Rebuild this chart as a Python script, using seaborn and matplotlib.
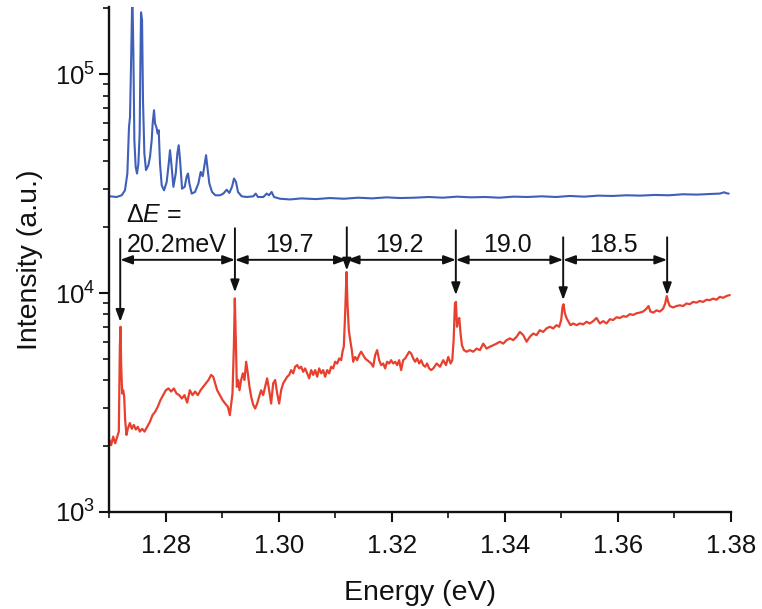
import numpy as np
import pandas as pd
import matplotlib
matplotlib.use("Agg")
import matplotlib.pyplot as plt
import seaborn as sns

# ---------------- data ----------------
red_energy = [
    1.2700, 1.27029, 1.27065, 1.2710, 1.27136, 1.27165, 1.27183, 1.27195, 1.27206, 1.27224,
    1.27242, 1.2726, 1.27277, 1.27301, 1.27324, 1.2736, 1.27395, 1.2743, 1.27466, 1.27501,
    1.27537, 1.27578, 1.2762, 1.27667, 1.27714, 1.27761, 1.27808, 1.27855, 1.27903, 1.2795,
    1.27997, 1.28044, 1.28091, 1.28139, 1.28186, 1.28233, 1.2828, 1.28327, 1.28375, 1.28422,
    1.28469, 1.28516, 1.28563, 1.28611, 1.28658, 1.28705, 1.28752, 1.28799, 1.28835, 1.2887,
    1.28906, 1.28953, 1.2900, 1.29047, 1.29094, 1.2913, 1.29153, 1.29177, 1.29201, 1.29218,
    1.29236, 1.29254, 1.29277, 1.29301, 1.2933, 1.2936, 1.29389, 1.29419, 1.29448, 1.29478,
    1.29507, 1.29543, 1.29578, 1.29614, 1.29649, 1.29684, 1.2972, 1.29755, 1.2979, 1.29826,
    1.29861, 1.29897, 1.29932, 1.29968, 1.30003, 1.30038, 1.30074, 1.30109, 1.30145, 1.3018,
    1.30215, 1.30251, 1.30286, 1.30322, 1.30357, 1.30392, 1.30428, 1.30463, 1.30499, 1.30534,
    1.3057, 1.30605, 1.3064, 1.30676, 1.30711, 1.30747, 1.30782, 1.30817, 1.30853, 1.30888,
    1.30924, 1.30959, 1.30994, 1.3103, 1.31065, 1.31101, 1.31124, 1.31147, 1.31171, 1.31195,
    1.31212, 1.31236, 1.31265, 1.31289, 1.31313, 1.31348, 1.31383, 1.31419, 1.31454, 1.3149,
    1.31525, 1.3156, 1.31596, 1.31631, 1.31667, 1.31702, 1.31737, 1.31773, 1.31808, 1.31844,
    1.31879, 1.31914, 1.3195, 1.31985, 1.32021, 1.32056, 1.32091, 1.32127, 1.32162, 1.32198,
    1.32233, 1.32268, 1.32304, 1.32339, 1.32375, 1.3241, 1.32445, 1.32481, 1.32516, 1.32552,
    1.32587, 1.32622, 1.32658, 1.32693, 1.32731, 1.3279, 1.32849, 1.32908, 1.32955, 1.32996,
    1.33038, 1.33067, 1.33091, 1.33114, 1.33132, 1.3315, 1.33173, 1.33191, 1.33214, 1.33238,
    1.33273, 1.3332, 1.33379, 1.33438, 1.33497, 1.33556, 1.33615, 1.33674, 1.33733, 1.33792,
    1.33851, 1.3391, 1.33969, 1.34028, 1.34087, 1.34146, 1.34205, 1.34264, 1.34323, 1.34382,
    1.34441, 1.3450, 1.34558, 1.34617, 1.34676, 1.34735, 1.34794, 1.34853, 1.34912, 1.34959,
    1.34995, 1.35018, 1.35036, 1.3506, 1.35089, 1.35124, 1.3516, 1.35207, 1.35266, 1.35325,
    1.35384, 1.35443, 1.35502, 1.35561, 1.3562, 1.35679, 1.35738, 1.35797, 1.35856, 1.35915,
    1.35974, 1.36033, 1.36092, 1.36151, 1.3621, 1.36269, 1.36328, 1.36387, 1.36446, 1.36505,
    1.3654, 1.36575, 1.36623, 1.36682, 1.36741, 1.3680, 1.36835, 1.36864, 1.36888, 1.36917,
    1.36976, 1.37035, 1.37094, 1.37153, 1.37212, 1.37271, 1.3733, 1.37389, 1.37448, 1.37507,
    1.37566, 1.37625, 1.37684, 1.37743, 1.37802, 1.37861, 1.3792, 1.37979,
]
red_intensity = [
    2130, 2020, 2210, 2060, 2210, 2330, 5690, 7020, 4770, 3480,
    3600, 3370, 2630, 2250, 2400, 2550, 2400, 2500, 2380, 2450,
    2330, 2400, 2330, 2450, 2580, 2770, 2870, 3030, 3250, 3420,
    3600, 3670, 3550, 3670, 3480, 3420, 3300, 3420, 3160, 3600,
    3420, 3550, 3420, 3600, 3730, 3870, 4010, 4230, 4150, 3870,
    3600, 3420, 3250, 3130, 3030, 2770, 3090, 3480, 5690, 9460,
    6100, 3730, 4010, 3600, 4010, 4300, 4010, 4860, 4300, 3730,
    3370, 3090, 2970, 3130, 3370, 3600, 3420, 3730, 4080, 3600,
    3130, 3870, 4010, 3480, 3130, 3600, 3870, 4010, 4150, 4230,
    4450, 4300, 4610, 4690, 4530, 4610, 4370, 4530, 4300, 4080,
    4450, 4230, 4450, 4150, 4530, 4300, 4450, 4150, 4450, 4300,
    4610, 4530, 4860, 4770, 5030, 4940, 5400, 5690, 8090, 12500,
    9000, 6770, 6000, 5490, 4860, 5110, 4940, 5210, 5400, 5210,
    5030, 4940, 4860, 4770, 4610, 5210, 5490, 4940, 4690, 4770,
    4530, 4860, 4770, 4940, 4770, 4860, 4690, 4940, 4450, 4940,
    5030, 5210, 5400, 5300, 5030, 4860, 5030, 4770, 4940, 4690,
    4610, 4770, 4530, 4450, 4530, 4770, 4610, 4940, 4690, 5110,
    4770, 4940, 6100, 8970, 9120, 7020, 7540, 7700, 6540, 5780,
    5490, 5400, 5490, 5400, 5580, 5490, 5880, 5580, 5690, 5780,
    5880, 6000, 5880, 6100, 6210, 6100, 6320, 6650, 6430, 6000,
    6320, 6540, 6430, 6770, 6650, 6900, 7020, 6900, 7140, 7020,
    7540, 8650, 8900, 8090, 7700, 7400, 7140, 7270, 7140, 7270,
    7200, 7400, 7270, 7450, 7700, 7270, 7450, 7270, 7600, 7540,
    7760, 7700, 7850, 7800, 8020, 7950, 8090, 8150, 8240, 8500,
    8730, 8240, 8150, 8340, 8240, 8500, 8970, 9700, 9120, 8730,
    8600, 8730, 8800, 8730, 8970, 8900, 9120, 9050, 9210, 9120,
    9330, 9290, 9440, 9330, 9620, 9520, 9700, 9800,
]

blue_energy = [
    1.2701, 1.27127, 1.27215, 1.27274, 1.27316, 1.27345, 1.27363, 1.27386, 1.27404, 1.27422,
    1.2744, 1.27463, 1.27487, 1.27511, 1.27534, 1.27546, 1.27558, 1.27576, 1.27593, 1.27617,
    1.27646, 1.27688, 1.27717, 1.27747, 1.27764, 1.27788, 1.27806, 1.2783, 1.27853, 1.27871,
    1.27894, 1.27924, 1.27965, 1.28012, 1.28048, 1.28071, 1.28095, 1.28131, 1.28172, 1.28201,
    1.28225, 1.28249, 1.28284, 1.28331, 1.28367, 1.2839, 1.28414, 1.28455, 1.28514, 1.28573,
    1.28614, 1.2865, 1.28685, 1.28709, 1.28732, 1.28767, 1.28815, 1.28874, 1.28956, 1.29015,
    1.29074, 1.29121, 1.29168, 1.29204, 1.29239, 1.29274, 1.29339, 1.29428, 1.29546, 1.29587,
    1.29628, 1.29723, 1.29782, 1.29823, 1.2987, 1.29912, 1.30018, 1.30195, 1.3040, 1.3065,
    1.3090, 1.3115, 1.3140, 1.3165, 1.3190, 1.3215, 1.3240, 1.3265, 1.3290, 1.3315,
    1.3340, 1.3365, 1.3390, 1.3415, 1.3440, 1.3465, 1.3490, 1.3515, 1.3540, 1.3565,
    1.3590, 1.3615, 1.3640, 1.3665, 1.3690, 1.3715, 1.3740, 1.3765, 1.3780, 1.3788,
    1.3792, 1.3796,
]
blue_intensity = [
    27700, 27500, 28000, 29500, 35200, 57400, 63800, 129000, 240000, 129000,
    50000, 37800, 35200, 39000, 53600, 108000, 192000, 177000, 76000, 43500,
    36500, 38400, 42000, 50000, 59600, 68500, 59600, 57400, 53600, 55500,
    39000, 31100, 29500, 32200, 39000, 45000, 39000, 30600, 35200, 43500,
    47400, 40500, 30000, 30600, 34200, 35200, 31700, 28500, 29000, 31700,
    35800, 34200, 39000, 42700, 37800, 31700, 29000, 28000, 28000, 28500,
    29700, 28700, 30600, 33400, 32200, 29000, 27700, 27500, 27700, 28500,
    27500, 27500, 28500, 28000, 29000, 27500, 27000, 26800, 27100, 26900,
    27200, 27000, 27300, 27100, 27400, 27200, 27300, 27500, 27300, 27600,
    27400, 27500, 27300, 27600, 27500, 27700, 27500, 27800, 27600, 27900,
    27800, 28000, 27900, 28100, 28000, 28300, 28200, 28400, 28500, 28900,
    28600, 28500,
]

peak_energy = [1.2719, 1.2922, 1.3120, 1.3313, 1.3503, 1.3687]
arrow_top = [17700, 19800, 20000, 19400, 18000, 18000]
arrow_tip = [7400, 10100, 12700, 9800, 9300, 9800]
spacing_labels = ["20.2meV", "19.7", "19.2", "19.0", "18.5"]
bracket_level = 14200

# ---------------- style ----------------
sns.set_theme(style="ticks")
plt.rcParams["font.family"] = ["Liberation Sans", "DejaVu Sans"]
plt.rcParams["mathtext.fontset"] = "custom"
plt.rcParams["mathtext.rm"] = "Liberation Sans"
plt.rcParams["mathtext.it"] = "Liberation Sans:italic"

fig = plt.figure(figsize=(7.62, 6.09), dpi=100)
ax = fig.add_axes([0.1437, 0.1593, 0.8156, 0.8292])

blue_df = pd.DataFrame({"Energy": blue_energy, "Intensity": blue_intensity})
red_df = pd.DataFrame({"Energy": red_energy, "Intensity": red_intensity})

sns.lineplot(data=blue_df, x="Energy", y="Intensity", ax=ax, color="#3f5fb8",
             linewidth=1.5, estimator=None, sort=False)
sns.lineplot(data=red_df, x="Energy", y="Intensity", ax=ax, color="#e8402e",
             linewidth=1.6, estimator=None, sort=False)

ax.set_yscale("log")
ax.set_xlim(1.27, 1.38)
ax.set_ylim(1e3, 2.03e5)
ax.set_xticks([1.28, 1.30, 1.32, 1.34, 1.36, 1.38])
ax.set_xticklabels(["1.28", "1.30", "1.32", "1.34", "1.36", "1.38"])
ax.set_xticks([1.27, 1.29, 1.31, 1.33, 1.35, 1.37], minor=True)
ax.yaxis.set_major_locator(matplotlib.ticker.LogLocator(base=10, numticks=10))
ax.yaxis.set_minor_locator(matplotlib.ticker.LogLocator(base=10, subs=np.arange(2, 10), numticks=20))
ax.yaxis.set_minor_formatter(matplotlib.ticker.NullFormatter())

for s in ["top", "right"]:
    ax.spines[s].set_visible(False)
for s in ["left", "bottom"]:
    ax.spines[s].set_linewidth(1.7)
    ax.spines[s].set_color("#111111")

ax.tick_params(axis="x", which="major", pad=9)
ax.tick_params(axis="both", which="major", direction="out", length=7, width=1.5,
               labelsize=18.5, colors="#111111")
ax.tick_params(axis="both", which="minor", direction="out", length=4, width=1.2,
               colors="#111111")
ax.set_xlabel("Energy (eV)", fontsize=20.5, color="#111111", labelpad=16)
ax.set_ylabel("Intensity (a.u.)", fontsize=20.5, color="#111111", labelpad=8)
ax.grid(False)

# vertical arrows to peaks
for e, top, tip in zip(peak_energy, arrow_top, arrow_tip):
    ax.annotate("", xy=(e, tip), xytext=(e, top),
                arrowprops=dict(arrowstyle="-|>,head_length=0.6,head_width=0.22",
                                color="#111111", lw=1.4, shrinkA=0, shrinkB=0))

# horizontal double arrows and labels
for i, lab in enumerate(spacing_labels):
    e0, e1 = peak_energy[i], peak_energy[i + 1]
    ax.annotate("", xy=(e1, bracket_level), xytext=(e0, bracket_level),
                arrowprops=dict(arrowstyle="<|-|>,head_length=0.6,head_width=0.22",
                                color="#111111", lw=1.4, shrinkA=0, shrinkB=0))
    if i == 0:
        ax.text(e0 + 0.0011, 16600, lab, fontsize=18, ha="left", va="center", color="#111111")
    else:
        ax.text((e0 + e1) / 2 - 0.0003, 16600, lab, fontsize=18, ha="center", va="center",
                color="#111111")

ax.text(1.2729, 22700, r"$\Delta \mathit{E}$ =", fontsize=18, ha="left", va="center",
        color="#111111")

fig.savefig("out.png", dpi=100)
